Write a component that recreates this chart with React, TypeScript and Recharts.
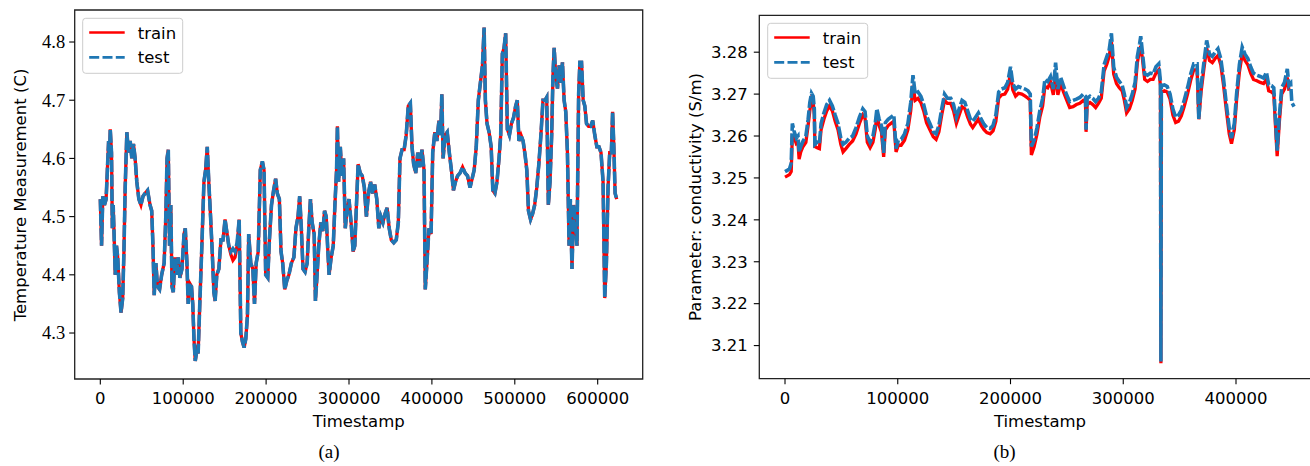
import React from "react";
import { LineChart, Line, XAxis, YAxis, ReferenceArea } from "recharts";

// (a) temperature
const timeA = [
  0, 1500, 3000, 5000, 7000, 8500, 10000, 11000, 12000, 13500,
  14500, 15500, 16500, 18000, 19500, 21000, 23000, 25000, 27000, 28500,
  30000, 32000, 34000, 36000, 38000, 40000, 42000, 44000, 46500, 49000,
  51500, 54000, 57000, 60000, 62000, 63500, 65000, 67000, 69000, 71500,
  74000, 77000, 79000, 80500, 82000, 83500, 85000, 86500, 88000, 90000,
  92000, 94000, 96000, 98500, 101000, 102500, 104500, 106000, 108000, 110000,
  111500, 113000, 114500, 116500, 118000, 120000, 122500, 125000, 127000, 129000,
  131000, 133000, 135000, 137000, 138500, 140500, 143000, 145500, 148000, 150500,
  152500, 155000, 157500, 160000, 162500, 165000, 167500, 169500, 171500, 173500,
  175500, 177500, 179000, 181500, 184000, 186000, 188000, 190500, 193000, 195500,
  197500, 199500, 202000, 204000, 206500, 209000, 211500, 213500, 216000, 218000,
  220000, 222500, 225000, 227500, 230500, 233500, 236000, 238500, 240500, 242500,
  244500, 247000, 249500, 251500, 253500, 255500, 258000, 259500, 261500, 263500,
  266000, 268500, 270500, 272500, 274500, 276000, 278500, 281000, 283000, 285000,
  286000, 287500, 289500, 291500, 293500, 295500, 297500, 300000, 302500, 305000,
  307000, 309000, 311000, 313500, 316000, 318500, 321000, 323500, 326000, 328500,
  331000, 333500, 336000, 338500, 341000, 343500, 346000, 348500, 351000, 354000,
  357000, 359500, 361500, 364000, 366500, 369000, 371500, 374000, 376000, 378000,
  380500, 383000, 385500, 388000, 390500, 392000, 394000, 396500, 399000, 401000,
  403500, 406000, 408500, 410500, 412000, 413500, 416000, 418500, 421000, 423500,
  426000, 428500, 431000, 434000, 437000, 440000, 443000, 446000, 448500, 451000,
  453500, 456000, 458500, 461000, 463000, 464500, 466500, 469000, 471500, 473500,
  476000, 478500, 481000, 483000, 485000, 487000, 489000, 491000, 493500, 496000,
  498500, 501000, 503000, 505000, 507500, 510000, 512500, 514500, 516500, 519000,
  521500, 524000, 526500, 529000, 531500, 534000, 536500, 538500, 540500, 542500,
  544500, 546000, 547500, 549500, 551500, 553500, 555500, 557500, 559500, 561500,
  563500, 565500, 567000, 569000, 571000, 573000, 575000, 577000, 578500, 580500,
  582500, 584500, 586500, 589000, 591500, 594000, 596500, 599000, 601500, 604000,
  606500, 608500, 610500, 612500, 614500, 616500, 618000, 619500, 621000, 623000,
];

const testA = [
  4.53, 4.45, 4.535, 4.52, 4.53, 4.58, 4.63, 4.6, 4.65, 4.61,
  4.48, 4.52, 4.475, 4.4, 4.45, 4.43, 4.37, 4.335, 4.36, 4.44,
  4.55, 4.645, 4.61, 4.63, 4.6, 4.625, 4.6, 4.56, 4.53, 4.52,
  4.535, 4.54, 4.545, 4.52, 4.51, 4.45, 4.365, 4.42, 4.38, 4.375,
  4.4, 4.42, 4.5, 4.6, 4.615, 4.45, 4.52, 4.38, 4.37, 4.43,
  4.4, 4.43, 4.395, 4.41, 4.47, 4.48, 4.42, 4.35, 4.385, 4.38,
  4.35, 4.29, 4.252, 4.27, 4.265, 4.35, 4.45, 4.56, 4.58, 4.62,
  4.555, 4.5, 4.44, 4.37, 4.355, 4.4, 4.41, 4.46, 4.46, 4.495,
  4.475, 4.45, 4.44, 4.445, 4.44, 4.455, 4.495, 4.3, 4.285, 4.275,
  4.29, 4.33, 4.47, 4.42, 4.41, 4.35, 4.42, 4.44, 4.58, 4.595,
  4.58, 4.4, 4.395, 4.46, 4.52, 4.545, 4.565, 4.54, 4.53, 4.44,
  4.42, 4.375, 4.39, 4.4, 4.42, 4.43, 4.48, 4.5, 4.535, 4.48,
  4.41, 4.405, 4.42, 4.48, 4.53, 4.49, 4.47, 4.355, 4.4, 4.45,
  4.49, 4.475, 4.51, 4.5, 4.44, 4.4, 4.43, 4.45, 4.52, 4.58,
  4.655, 4.56, 4.62, 4.57, 4.6, 4.48, 4.51, 4.53, 4.49, 4.44,
  4.45, 4.52, 4.59, 4.575, 4.57, 4.55, 4.5, 4.54, 4.56, 4.54,
  4.555, 4.53, 4.48, 4.5, 4.49, 4.505, 4.515, 4.48, 4.46, 4.455,
  4.46, 4.49, 4.6, 4.615, 4.615, 4.64, 4.69, 4.695, 4.62, 4.59,
  4.575, 4.61, 4.585, 4.615, 4.58, 4.375, 4.42, 4.48, 4.47, 4.61,
  4.645, 4.63, 4.665, 4.64, 4.71, 4.6, 4.64, 4.645, 4.61, 4.58,
  4.545, 4.56, 4.57, 4.575, 4.585, 4.575, 4.57, 4.55, 4.565, 4.58,
  4.62, 4.7, 4.73, 4.76, 4.825, 4.7, 4.66, 4.645, 4.62, 4.545,
  4.54, 4.56, 4.6, 4.64, 4.78, 4.79, 4.815, 4.65, 4.64, 4.66,
  4.67, 4.69, 4.7, 4.63, 4.64, 4.63, 4.605, 4.58, 4.51, 4.495,
  4.505, 4.52, 4.55, 4.59, 4.64, 4.7, 4.7, 4.705, 4.52, 4.56,
  4.64, 4.74, 4.79, 4.74, 4.72, 4.76, 4.73, 4.765, 4.7, 4.68,
  4.61, 4.45, 4.53, 4.41, 4.52, 4.49, 4.45, 4.71, 4.765, 4.765,
  4.7, 4.69, 4.66, 4.655, 4.655, 4.665, 4.64, 4.62, 4.62, 4.61,
  4.56, 4.36, 4.42, 4.55, 4.61, 4.61, 4.68, 4.62, 4.54, 4.53,
];

const trainA = [
  4.53, 4.45, 4.535, 4.52, 4.53, 4.58, 4.63, 4.6, 4.65, 4.61,
  4.48, 4.52, 4.475, 4.4, 4.45, 4.43, 4.37, 4.335, 4.36, 4.44,
  4.55, 4.645, 4.61, 4.63, 4.6, 4.625, 4.6, 4.56, 4.53, 4.52,
  4.535, 4.54, 4.545, 4.52, 4.51, 4.45, 4.365, 4.42, 4.38, 4.375,
  4.4, 4.42, 4.5, 4.6, 4.615, 4.45, 4.52, 4.38, 4.37, 4.43,
  4.4, 4.43, 4.395, 4.41, 4.47, 4.48, 4.42, 4.35, 4.385, 4.38,
  4.35, 4.29, 4.252, 4.27, 4.265, 4.35, 4.45, 4.56, 4.58, 4.62,
  4.555, 4.5, 4.44, 4.37, 4.355, 4.4, 4.41, 4.46, 4.46, 4.495,
  4.475, 4.45, 4.435, 4.425, 4.43, 4.45, 4.495, 4.3, 4.285, 4.275,
  4.29, 4.33, 4.47, 4.42, 4.41, 4.35, 4.42, 4.44, 4.58, 4.595,
  4.58, 4.4, 4.395, 4.46, 4.52, 4.545, 4.565, 4.54, 4.53, 4.44,
  4.42, 4.375, 4.39, 4.4, 4.42, 4.43, 4.48, 4.5, 4.535, 4.48,
  4.41, 4.405, 4.42, 4.48, 4.53, 4.49, 4.47, 4.355, 4.4, 4.45,
  4.49, 4.475, 4.51, 4.5, 4.44, 4.4, 4.43, 4.45, 4.52, 4.58,
  4.655, 4.56, 4.62, 4.57, 4.6, 4.48, 4.51, 4.53, 4.49, 4.44,
  4.45, 4.52, 4.59, 4.575, 4.57, 4.55, 4.5, 4.54, 4.56, 4.54,
  4.555, 4.53, 4.48, 4.5, 4.49, 4.505, 4.515, 4.48, 4.46, 4.455,
  4.46, 4.49, 4.6, 4.615, 4.615, 4.64, 4.69, 4.695, 4.62, 4.59,
  4.575, 4.61, 4.585, 4.615, 4.58, 4.375, 4.42, 4.48, 4.47, 4.61,
  4.645, 4.63, 4.665, 4.64, 4.71, 4.6, 4.64, 4.645, 4.61, 4.58,
  4.545, 4.56, 4.57, 4.575, 4.585, 4.575, 4.57, 4.55, 4.565, 4.58,
  4.62, 4.7, 4.73, 4.76, 4.825, 4.7, 4.66, 4.645, 4.62, 4.545,
  4.54, 4.56, 4.6, 4.64, 4.78, 4.79, 4.815, 4.65, 4.64, 4.66,
  4.67, 4.69, 4.7, 4.63, 4.64, 4.63, 4.605, 4.58, 4.51, 4.495,
  4.505, 4.52, 4.55, 4.59, 4.64, 4.7, 4.7, 4.705, 4.52, 4.56,
  4.64, 4.74, 4.79, 4.74, 4.72, 4.76, 4.73, 4.765, 4.7, 4.68,
  4.61, 4.45, 4.53, 4.41, 4.52, 4.49, 4.45, 4.71, 4.765, 4.765,
  4.7, 4.69, 4.66, 4.655, 4.655, 4.665, 4.64, 4.62, 4.62, 4.61,
  4.56, 4.36, 4.42, 4.55, 4.61, 4.61, 4.68, 4.62, 4.54, 4.53,
];

// (b) conductivity
const timeB = [
  0, 2000, 4000, 5500, 6500, 8000, 10000, 11500, 12500, 14000,
  16000, 18500, 20500, 22000, 23500, 25000, 26000, 26500, 28500, 30500,
  32000, 34500, 37000, 39500, 42000, 44500, 47000, 49500, 51500, 54000,
  57000, 60000, 63000, 66000, 69000, 71000, 73000, 75500, 78000, 80000,
  81500, 83500, 85500, 87500, 89000, 91500, 94000, 96500, 98500, 100500,
  103000, 106000, 109000, 111500, 113500, 115500, 118000, 120500, 123000, 125500,
  128500, 131500, 134000, 136500, 139000, 141500, 144000, 147000, 149500, 152000,
  154500, 157000, 159500, 162000, 164500, 166500, 169000, 171500, 174000, 176500,
  179000, 182000, 184500, 187000, 189500, 192000, 195000, 197500, 200000, 202000,
  204500, 207000, 210000, 213000, 215500, 217500, 218500, 221000, 223500, 226000,
  228500, 230500, 233000, 235500, 238000, 240000, 242000, 244500, 247000, 249500,
  252500, 255500, 258500, 261500, 264500, 266500, 267000, 268000, 270500, 273000,
  275500, 278000, 280500, 283000, 285500, 287500, 289500, 291500, 294000, 296500,
  299000, 301000, 303000, 305500, 308000, 310500, 312500, 314500, 315500, 317000,
  319000, 321500, 324000, 326500, 329000, 331500, 333000, 333400, 333800, 336500,
  339000, 341500, 344000, 346500, 349000, 351500, 354000, 357000, 360000, 362500,
  365500, 367000, 369000, 371500, 374000, 376500, 379000, 381500, 384000, 386500,
  389000, 391500, 394000, 396000, 398500, 400500, 403000, 405500, 408000, 410500,
  413000, 415500, 418500, 421500, 424500, 427000, 429000, 431500, 433500, 435000,
  436500, 438500, 440500, 443000, 445500, 447000, 448500, 449500, 451500,
];

const testB = [
  3.2515, 3.2518, 3.2522, 3.2535, 3.263, 3.2612, 3.2595, 3.26, 3.2562, 3.2575,
  3.2588, 3.26, 3.264, 3.268, 3.2702, 3.2695, 3.2665, 3.258, 3.2585, 3.2582,
  3.263, 3.2655, 3.2675, 3.2685, 3.2672, 3.265, 3.263, 3.2595, 3.258, 3.2585,
  3.2595, 3.26, 3.262, 3.2645, 3.2665, 3.2658, 3.26, 3.2585, 3.26, 3.263,
  3.2665, 3.264, 3.2625, 3.256, 3.2632, 3.264, 3.2645, 3.265, 3.257, 3.259,
  3.2592, 3.2605, 3.263, 3.268, 3.2745, 3.27, 3.2705, 3.2695, 3.2675, 3.2648,
  3.263, 3.261, 3.2605, 3.2625, 3.2665, 3.27, 3.269, 3.269, 3.2675, 3.2645,
  3.2665, 3.2685, 3.268, 3.266, 3.264, 3.2635, 3.2645, 3.2655, 3.264, 3.2628,
  3.262, 3.2618, 3.2625, 3.265, 3.2705, 3.2712, 3.2715, 3.2728, 3.2765, 3.2725,
  3.2712, 3.2718, 3.2715, 3.2712, 3.2708, 3.27, 3.2575, 3.259, 3.262, 3.266,
  3.269, 3.2735, 3.273, 3.2742, 3.2712, 3.2775, 3.2712, 3.274, 3.272, 3.27,
  3.2682, 3.2685, 3.2688, 3.2692, 3.27, 3.2695, 3.2615, 3.269, 3.2695, 3.269,
  3.2682, 3.269, 3.2705, 3.277, 3.279, 3.2805, 3.2845, 3.2765, 3.274, 3.273,
  3.2722, 3.27, 3.2668, 3.268, 3.27, 3.2728, 3.279, 3.282, 3.2838, 3.28,
  3.2748, 3.2745, 3.275, 3.2748, 3.2765, 3.2772, 3.273, 3.2062, 3.272, 3.2722,
  3.2718, 3.27, 3.2665, 3.2645, 3.265, 3.2662, 3.2685, 3.2715, 3.275, 3.2772,
  3.2772, 3.264, 3.272, 3.2775, 3.2828, 3.2795, 3.279, 3.28, 3.2808, 3.2785,
  3.2735, 3.2675, 3.262, 3.2595, 3.263, 3.27, 3.277, 3.2812, 3.2795, 3.2785,
  3.2765, 3.275, 3.2745, 3.2742, 3.2738, 3.2752, 3.2722, 3.272, 3.2715, 3.264,
  3.2565, 3.265, 3.2715, 3.2728, 3.276, 3.272, 3.2725, 3.268, 3.267,
];

const trainB = [
  3.2502, 3.2505, 3.2508, 3.2515, 3.26, 3.2598, 3.2582, 3.2585, 3.2545, 3.2562,
  3.2575, 3.2585, 3.2625, 3.266, 3.2688, 3.268, 3.265, 3.2575, 3.2572, 3.257,
  3.2615, 3.264, 3.266, 3.2672, 3.266, 3.2635, 3.2615, 3.258, 3.2562, 3.257,
  3.258, 3.2588, 3.2605, 3.263, 3.265, 3.2642, 3.2585, 3.2572, 3.2585, 3.2615,
  3.265, 3.2625, 3.261, 3.255, 3.2615, 3.2625, 3.263, 3.2635, 3.2562, 3.2578,
  3.2578, 3.259, 3.2615, 3.266, 3.272, 3.2685, 3.269, 3.268, 3.266, 3.2632,
  3.2615, 3.2598, 3.2592, 3.261, 3.265, 3.2685, 3.2678, 3.2678, 3.266, 3.263,
  3.265, 3.267, 3.2665, 3.2645, 3.2628, 3.262, 3.263, 3.264, 3.2625, 3.2615,
  3.2608, 3.2605, 3.2612, 3.2635, 3.269, 3.2698, 3.27, 3.2712, 3.275, 3.271,
  3.2695, 3.2702, 3.27, 3.2695, 3.269, 3.2685, 3.2555, 3.2575, 3.2605, 3.2645,
  3.2672, 3.2718, 3.2715, 3.2728, 3.2698, 3.275, 3.2698, 3.2725, 3.2705, 3.2688,
  3.2668, 3.267, 3.2675, 3.2678, 3.2685, 3.268, 3.261, 3.2675, 3.268, 3.2675,
  3.2668, 3.2678, 3.269, 3.2755, 3.2772, 3.279, 3.2825, 3.2748, 3.2725, 3.2715,
  3.2708, 3.2685, 3.2655, 3.2665, 3.2685, 3.2712, 3.2775, 3.2805, 3.2815, 3.2785,
  3.2735, 3.273, 3.2735, 3.2735, 3.275, 3.2758, 3.272, 3.2058, 3.2705, 3.2708,
  3.2705, 3.2688, 3.265, 3.2632, 3.2635, 3.2648, 3.267, 3.27, 3.2735, 3.2758,
  3.2758, 3.264, 3.2705, 3.276, 3.281, 3.278, 3.2775, 3.2785, 3.2792, 3.277,
  3.272, 3.266, 3.2605, 3.2582, 3.2615, 3.2685, 3.2752, 3.2795, 3.278, 3.277,
  3.275, 3.2735, 3.2732, 3.2728, 3.2725, 3.2735, 3.2708, 3.2705, 3.27, 3.2625,
  3.2552, 3.2635, 3.27, 3.2712, 3.274, 3.2708, null, null, null,
];

const ticksXA = [0, 100000, 200000, 300000, 400000, 500000, 600000];
const ticksYA = [4.3, 4.4, 4.5, 4.6, 4.7, 4.8];
const ticksXB = [0, 100000, 200000, 300000, 400000];
const ticksYB = [3.21, 3.22, 3.23, 3.24, 3.25, 3.26, 3.27, 3.28];

const SANS = "'DejaVu Sans', Verdana, sans-serif";
const SERIF = "'Liberation Serif', 'Times New Roman', serif";
const RED = "#ff0000";
const BLUE = "#1f77b4";

function rows(t: number[], train: (number | null)[], test: number[]) {
  return t.map((x, i) => ({ t: x, train: train[i], test: test[i] }));
}

// y tick labels drawn by hand so the font family sticks
function makeYTick(font: string, size: number, digits: number) {
  return (props: any) => {
    const { x, y, payload } = props;
    return (
      <text
        x={x}
        y={y}
        dy="0.35em"
        textAnchor="end"
        fill="#000"
        style={{ fontFamily: font, fontSize: size }}
      >
        {Number(payload.value).toFixed(digits)}
      </text>
    );
  };
}

type PanelProps = {
  left: number;
  width: number;
  data: any[];
  xDomain: [number, number];
  yDomain: [number, number];
  xTicks: number[];
  yTicks: number[];
  yDigits: number;
  yAxisWidth: number;
  yFont: string;
  yFontSize: number;
  yTickMargin: number;
  margin: { top: number; right: number; bottom: number; left: number };
};

function Panel(p: PanelProps) {
  return (
    <div style={{ position: "absolute", left: p.left, top: 0 }}>
      <LineChart width={p.width} height={466} data={p.data} margin={p.margin}>
        <XAxis
          type="number"
          dataKey="t"
          domain={p.xDomain}
          ticks={p.xTicks}
          interval={0}
          allowDataOverflow
          axisLine={false}
          tickSize={5.5}
          tickMargin={8}
          height={40}
          tickLine={{ stroke: "#000", strokeWidth: 1.1 }}
          tick={{ fontFamily: SANS, fontSize: 16.5, fill: "#000" }}
        />
        <YAxis
          type="number"
          domain={p.yDomain}
          ticks={p.yTicks}
          interval={0}
          allowDataOverflow
          axisLine={false}
          width={p.yAxisWidth}
          tickSize={5.5}
          tickMargin={p.yTickMargin}
          tickLine={{ stroke: "#000", strokeWidth: 1.1 }}
          tick={makeYTick(p.yFont, p.yFontSize, p.yDigits)}
        />
        <Line
          type="linear"
          dataKey="train"
          stroke={RED}
          strokeWidth={3.3}
          dot={false}
          isAnimationActive={false}
        />
        <Line
          type="linear"
          dataKey="test"
          stroke={BLUE}
          strokeWidth={3.6}
          strokeDasharray="12 2.5"
          dot={false}
          isAnimationActive={false}
        />
        <ReferenceArea
          x1={p.xDomain[0]}
          x2={p.xDomain[1]}
          y1={p.yDomain[0]}
          y2={p.yDomain[1]}
          fill="none"
          stroke="#222"
          strokeWidth={1.3}
          ifOverflow="visible"
        />
      </LineChart>
    </div>
  );
}

function LegendBox({ x, y }: { x: number; y: number }) {
  return (
    <g>
      <rect x={x} y={y} width={100} height={55} rx={3} fill="#fff" fillOpacity={0.85} stroke="#cccccc" strokeWidth={1} />
      <line x1={x + 6.5} x2={x + 42} y1={y + 14.2} y2={y + 14.2} stroke={RED} strokeWidth={2.7} />
      <line x1={x + 6.5} x2={x + 42} y1={y + 39} y2={y + 39} stroke={BLUE} strokeWidth={2.7} strokeDasharray="10 3.3" />
      <text x={x + 55} y={y + 20.3} fontFamily={SANS} fontSize={16.5} fill="#000">train</text>
      <text x={x + 55} y={y + 45} fontFamily={SANS} fontSize={16.5} fill="#000">test</text>
    </g>
  );
}

export default function App() {
  const dataA = rows(timeA, trainA, testA);
  const dataB = rows(timeB, trainB, testB);

  return (
    <div style={{ position: "fixed", left: 0, top: 0, width: 1310, height: 466, overflow: "hidden", background: "#fff" }}>
      <Panel
        left={0}
        width={660}
        data={dataA}
        xDomain={[-30900, 654300]}
        yDomain={[4.221, 4.855]}
        xTicks={ticksXA}
        yTicks={ticksYA}
        yDigits={1}
        yAxisWidth={74.7}
        yFont={SERIF}
        yFontSize={18.5}
        yTickMargin={4}
        margin={{ top: 10, right: 17.3, bottom: 47, left: 0 }}
      />
      <Panel
        left={650}
        width={680}
        data={dataB}
        xDomain={[-22800, 474500]}
        yDomain={[3.2021, 3.2888]}
        xTicks={ticksXB}
        yTicks={ticksYB}
        yDigits={2}
        yAxisWidth={109.3}
        yFont={SANS}
        yFontSize={16.5}
        yTickMargin={6}
        margin={{ top: 15.3, right: 10, bottom: 47.3, left: 0 }}
      />
      <svg width={1310} height={466} style={{ position: "absolute", left: 0, top: 0, pointerEvents: "none" }}>
        <LegendBox x={82.7} y={18.3} />
        <LegendBox x={767.7} y={23.3} />
        <text x={358.7} y={426.5} textAnchor="middle" fontFamily={SANS} fontSize={16.5} fill="#000">Timestamp</text>
        <text x={1040} y={426.5} textAnchor="middle" fontFamily={SANS} fontSize={16.5} fill="#000">Timestamp</text>
        <text transform="translate(25.5,195) rotate(-90)" textAnchor="middle" fontFamily={SANS} fontSize={16.5} fill="#000">
          Temperature Measurement (C)
        </text>
        <text transform="translate(701,197) rotate(-90)" textAnchor="middle" fontFamily={SANS} fontSize={16.5} fill="#000">
          Parameter: conductivity (S/m)
        </text>
        <text x={329} y={457.5} textAnchor="middle" fontFamily={SERIF} fontSize={19} fill="#000">(a)</text>
        <text x={1004.5} y={457.5} textAnchor="middle" fontFamily={SERIF} fontSize={19} fill="#000">(b)</text>
      </svg>
    </div>
  );
}
